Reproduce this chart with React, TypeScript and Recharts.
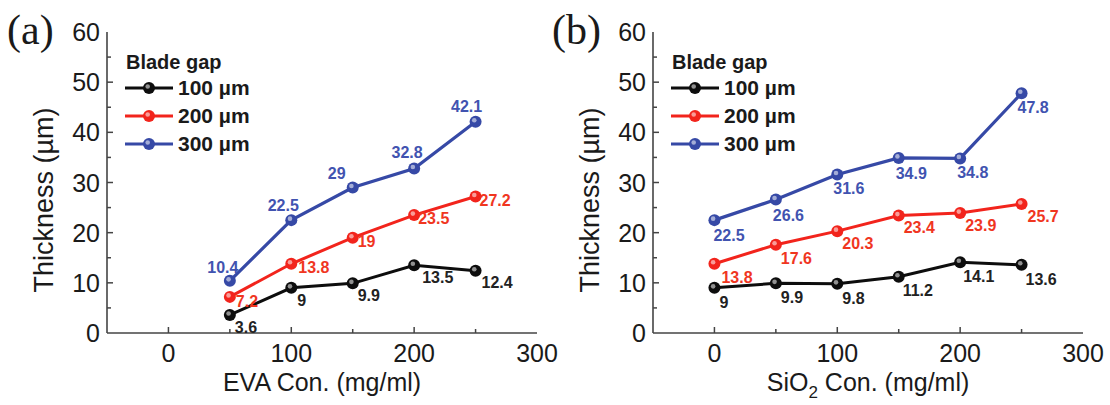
import React from 'react';
import { LineChart, Line, XAxis, YAxis, Legend, LabelList, Label } from 'recharts';

// ---------- data ----------
const evaConc = [50, 100, 150, 200, 250];
const evaGap100 = [3.6, 9, 9.9, 13.5, 12.4];
const evaGap200 = [7.2, 13.8, 19, 23.5, 27.2];
const evaGap300 = [10.4, 22.5, 29, 32.8, 42.1];

const sioConc = [0, 50, 100, 150, 200, 250];
const sioGap100 = [9, 9.9, 9.8, 11.2, 14.1, 13.6];
const sioGap200 = [13.8, 17.6, 20.3, 23.4, 23.9, 25.7];
const sioGap300 = [22.5, 26.6, 31.6, 34.9, 34.8, 47.8];

const seriesNames = ['100 µm', '200 µm', '300 µm'];
const legendTitle = 'Blade gap';
const yTitle = 'Thickness (µm)';
const xTicks = [0, 50, 100, 150, 200, 250, 300];
const yTicks = [0, 5, 10, 15, 20, 25, 30, 35, 40, 45, 50, 55, 60];
const xDomain: [number, number] = [-50, 300];
const yDomain: [number, number] = [0, 60];

// ---------- styles ----------
const FONT = '"Liberation Sans", Arial, Helvetica, sans-serif';
const SERIF = '"Liberation Serif", "Times New Roman", serif';
const AXIS = '#444';
const TEXT = '#1a1a1a';
const BLACK = '#0d0d0d';
const RED = '#f2241c';
const BLUE = '#3649a6';
const BLACK_LBL = '#222';
const RED_LBL = '#f0361f';
const BLUE_LBL = '#4153b0';

// label offsets [dx, dy(center), anchor] per point
type Off = [number, number, string];
const offA: Off[][] = [
  [[5, 12, 'start'], [6, 12, 'start'], [5, 12, 'start'], [8, 12, 'start'], [6, 11, 'start']],
  [[6, 4, 'start'], [7, 3, 'start'], [5, 3, 'start'], [4, 3, 'start'], [4, 3, 'start']],
  [[-7, -14, 'middle'], [-8, -15, 'middle'], [-16, -15, 'middle'], [-7, -16, 'middle'], [-9, -16, 'middle']],
];
const offB: Off[][] = [
  [[5, 14, 'start'], [5, 14, 'start'], [5, 14, 'start'], [4, 13, 'start'], [3, 14, 'start'], [4, 14, 'start']],
  [[7, 13, 'start'], [5, 13, 'start'], [5, 12, 'start'], [5, 11, 'start'], [5, 12, 'start'], [6, 12, 'start']],
  [[-1, 15, 'start'], [-3, 15, 'start'], [-4, 14, 'start'], [-3, 15, 'start'], [-3, 14, 'start'], [-4, 14, 'start']],
];

// ---------- helpers ----------
const makeDot = (color: string) => (props: any) => {
  const { cx, cy, index } = props;
  if (cx == null || cy == null) return <g key={`d${index}`} />;
  return (
    <g key={`d${index}`}>
      <circle cx={cx} cy={cy} r={6} fill={color} />
      <circle cx={cx - 1.3} cy={cy - 1.5} r={2.3} fill="#fff" fillOpacity={0.55} />
    </g>
  );
};

const makeLabel = (offs: Off[], color: string) => (props: any) => {
  const vb = props.viewBox || {};
  const x = props.x ?? vb.x;
  const y = props.y ?? vb.y;
  const i = props.index ?? 0;
  const o = offs[i] || [5, 12, 'start'];
  if (x == null || y == null) return null;
  return (
    <text
      x={x + o[0]}
      y={y + o[1] + 6}
      textAnchor={o[2]}
      fontFamily={FONT}
      fontWeight="bold"
      fontSize={16}
      fill={color}
    >
      {props.value}
    </text>
  );
};

const XBottomTick = (props: any) => {
  const { x, y, payload } = props;
  const v = payload.value;
  const major = v % 100 === 0;
  return (
    <g>
      {v > xDomain[0] && v < xDomain[1] && (
        <line x1={x} x2={x} y1={y} y2={y - (major ? 6 : 4)} stroke={AXIS} strokeWidth={1.5} />
      )}
      {major && (
        <text x={x} y={y + 29} textAnchor="middle" fontSize={25} fill={TEXT} fontFamily={FONT}>
          {v}
        </text>
      )}
    </g>
  );
};

const XTopTick = (props: any) => {
  const { x, y, payload } = props;
  const v = payload.value;
  const major = v % 100 === 0;
  if (!(v > xDomain[0] && v < xDomain[1])) return <g />;
  return <line x1={x} x2={x} y1={y} y2={y + (major ? 6 : 4)} stroke={AXIS} strokeWidth={1.5} />;
};

const YLeftTick = (props: any) => {
  const { x, y, payload } = props;
  const v = payload.value;
  const major = v % 10 === 0;
  return (
    <g>
      {v > yDomain[0] && v < yDomain[1] && (
        <line x1={x} x2={x + (major ? 6 : 4)} y1={y} y2={y} stroke={AXIS} strokeWidth={1.5} />
      )}
      {major && (
        <text x={x - 7} y={y + 9} textAnchor="end" fontSize={25} fill={TEXT} fontFamily={FONT}>
          {v}
        </text>
      )}
    </g>
  );
};

const YRightTick = (props: any) => {
  const { x, y, payload } = props;
  const v = payload.value;
  const major = v % 10 === 0;
  if (!(v > yDomain[0] && v < yDomain[1])) return <g />;
  return <line x1={x} x2={x - (major ? 6 : 4)} y1={y} y2={y} stroke={AXIS} strokeWidth={1.5} />;
};

const renderLegend = (props: any) => {
  const payload = props.payload || [];
  return (
    <div style={{ fontFamily: FONT, fontWeight: 'bold', color: TEXT, textAlign: 'left' }}>
      <div style={{ fontSize: 20, lineHeight: '24px', paddingLeft: 2, whiteSpace: 'nowrap' }}>{legendTitle}</div>
      {payload.map((p: any, i: number) => (
        <div key={i} style={{ display: 'flex', alignItems: 'center', height: 28 }}>
          <svg width={50} height={28} style={{ display: 'block' }}>
            <line x1={1} x2={49} y1={14} y2={14} stroke={p.color} strokeWidth={3} />
            <circle cx={25} cy={14} r={6} fill={p.color} />
            <circle cx={23.7} cy={12.5} r={2.3} fill="#fff" fillOpacity={0.55} />
          </svg>
          <span style={{ fontSize: 21, lineHeight: '28px', marginLeft: 4, whiteSpace: 'nowrap' }}>{p.value}</span>
        </div>
      ))}
    </div>
  );
};

type PanelProps = {
  conc: number[];
  g100: number[];
  g200: number[];
  g300: number[];
  offs: Off[][];
  xTitle: React.ReactNode;
  letter: string;
  left: number;
  width: number;
  yAxisWidth: number;
  rightMargin: number;
};

const Panel = ({ conc, g100, g200, g300, offs, xTitle, letter, left, width, yAxisWidth, rightMargin }: PanelProps) => {
  const rows = conc.map((c, i) => ({ x: c, g100: g100[i], g200: g200[i], g300: g300[i] }));
  const axisLine = { stroke: AXIS, strokeWidth: 1.6 };
  return (
    <div style={{ position: 'absolute', left, top: 0, width, height: 405 }}>
      <LineChart width={width} height={405} data={rows} margin={{ top: 32, right: rightMargin, left: 0, bottom: 0 }}>
        <XAxis
          xAxisId="b"
          dataKey="x"
          type="number"
          domain={xDomain}
          ticks={xTicks}
          interval={0}
          tickSize={0}
          tickMargin={0}
          tickLine={false}
          tick={XBottomTick}
          height={72}
          axisLine={axisLine}
          allowDataOverflow
        >
          <Label
            content={(p: any) => {
              const vb = p.viewBox || {};
              return (
                <text x={vb.x + vb.width / 2} y={vb.y + 58} textAnchor="middle" fontSize={25} fill={TEXT} fontFamily={FONT}>
                  {xTitle}
                </text>
              );
            }}
          />
        </XAxis>
        <XAxis
          xAxisId="t"
          orientation="top"
          type="number"
          domain={xDomain}
          ticks={xTicks}
          interval={0}
          tickSize={0}
          tickMargin={0}
          tickLine={false}
          tick={XTopTick}
          height={0}
          axisLine={axisLine}
          allowDataOverflow
        />
        <YAxis
          yAxisId="l"
          type="number"
          domain={yDomain}
          ticks={yTicks}
          interval={0}
          tickSize={0}
          tickMargin={0}
          tickLine={false}
          tick={YLeftTick}
          width={yAxisWidth}
          axisLine={axisLine}
          allowDataOverflow
        >
          <Label
            content={(p: any) => {
              const vb = p.viewBox || {};
              const tx = vb.x + vb.width - 54;
              const ty = 200;
              return (
                <text
                  x={tx}
                  y={ty}
                  transform={`rotate(-90, ${tx}, ${ty})`}
                  textAnchor="middle"
                  fontSize={27}
                  fill={TEXT}
                  fontFamily={FONT}
                >
                  {yTitle}
                </text>
              );
            }}
          />
        </YAxis>
        <YAxis
          yAxisId="r"
          orientation="right"
          type="number"
          domain={yDomain}
          ticks={yTicks}
          interval={0}
          tickSize={0}
          tickMargin={0}
          tickLine={false}
          tick={YRightTick}
          width={0}
          axisLine={axisLine}
          allowDataOverflow
        />
        <Legend
          layout="horizontal"
          verticalAlign="middle"
          align="center"
          wrapperStyle={{ top: 50, left: yAxisWidth + 17, width: 200, height: 'auto' }}
          content={renderLegend}
        />
        <Line
          xAxisId="b"
          yAxisId="l"
          dataKey="g100"
          name={seriesNames[0]}
          stroke={BLACK}
          strokeWidth={3}
          dot={makeDot(BLACK)}
          activeDot={false}
          isAnimationActive={false}
        >
          <LabelList dataKey="g100" content={makeLabel(offs[0], BLACK_LBL)} />
        </Line>
        <Line
          xAxisId="b"
          yAxisId="l"
          dataKey="g200"
          name={seriesNames[1]}
          stroke={RED}
          strokeWidth={3}
          dot={makeDot(RED)}
          activeDot={false}
          isAnimationActive={false}
        >
          <LabelList dataKey="g200" content={makeLabel(offs[1], RED_LBL)} />
        </Line>
        <Line
          xAxisId="b"
          yAxisId="l"
          dataKey="g300"
          name={seriesNames[2]}
          stroke={BLUE}
          strokeWidth={3.2}
          dot={makeDot(BLUE)}
          activeDot={false}
          isAnimationActive={false}
        >
          <LabelList dataKey="g300" content={makeLabel(offs[2], BLUE_LBL)} />
        </Line>
      </LineChart>
      <div
        style={{
          position: 'absolute',
          left: 7,
          top: 10,
          fontFamily: SERIF,
          fontSize: 42,
          lineHeight: '40px',
          color: TEXT,
          whiteSpace: 'nowrap',
        }}
      >
        {letter}
      </div>
    </div>
  );
};

export default function App() {
  return (
    <div style={{ position: 'absolute', left: 0, top: 0, width: 1110, height: 405, background: '#fff', overflow: 'hidden' }}>
      <Panel
        conc={evaConc}
        g100={evaGap100}
        g200={evaGap200}
        g300={evaGap300}
        offs={offA}
        xTitle="EVA Con. (mg/ml)"
        letter="(a)"
        left={0}
        width={575}
        yAxisWidth={107}
        rightMargin={38}
      />
      <Panel
        conc={sioConc}
        g100={sioGap100}
        g200={sioGap200}
        g300={sioGap300}
        offs={offB}
        xTitle={
          <>
            <tspan>SiO</tspan>
            <tspan dy={7} fontSize={17}>2</tspan>
            <tspan dy={-7}> Con. (mg/ml)</tspan>
          </>
        }
        letter="(b)"
        left={545}
        width={565}
        yAxisWidth={108}
        rightMargin={27}
      />
    </div>
  );
}
